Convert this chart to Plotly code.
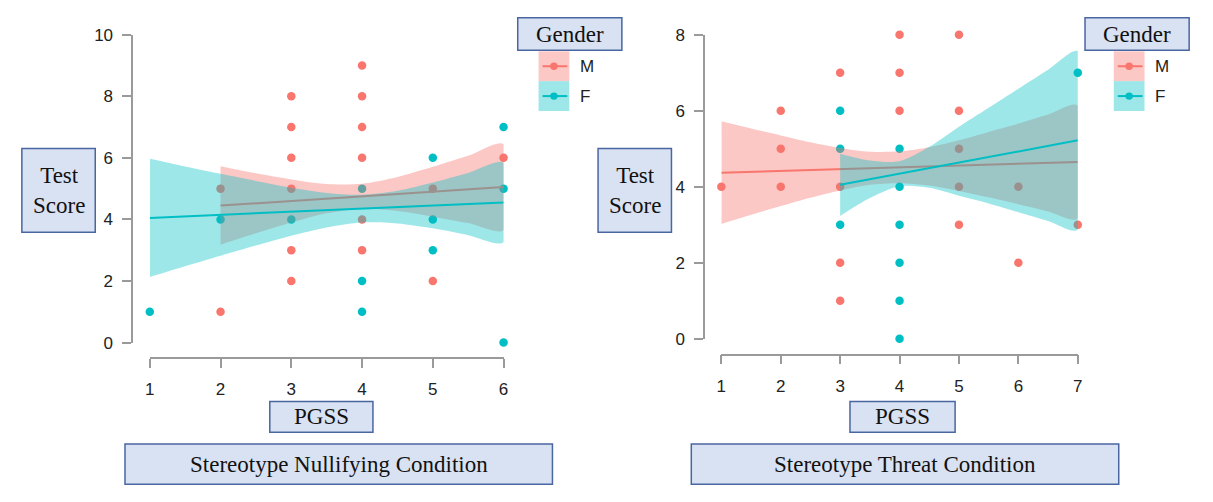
import plotly.graph_objects as go

W, H = 1213, 502

# ---------------- data: Stereotype Nullifying Condition (left) ----------------
nul_m_x = [2, 2, 3, 3, 3, 3, 3, 3, 4, 4, 4, 4, 4, 4, 5, 5, 6]
nul_m_y = [5, 1, 8, 7, 6, 5, 3, 2, 9, 8, 7, 6, 4, 3, 5, 2, 6]
nul_f_x = [1, 2, 3, 4, 4, 4, 5, 5, 5, 6, 6, 6]
nul_f_y = [1, 4, 4, 5, 2, 1, 6, 4, 3, 7, 5, 0]

nul_m_fit_x = [2, 6]
nul_m_fit_y = [4.45, 5.05]
nul_f_fit_x = [1, 6]
nul_f_fit_y = [4.05, 4.55]

nul_m_band_x = [2, 2.5, 3, 3.5, 4, 4.5, 5, 5.5, 6]
nul_m_band_lo = [3.18, 3.55, 3.90, 4.20, 4.35, 4.27, 4.09, 3.88, 3.65]
nul_m_band_hi = [5.73, 5.50, 5.30, 5.15, 5.16, 5.38, 5.71, 6.07, 6.45]
nul_f_band_x = [1, 1.5, 2, 2.5, 3, 3.5, 4, 4.5, 5, 5.5, 6]
nul_f_band_lo = [2.13, 2.48, 2.82, 3.15, 3.47, 3.74, 3.90, 3.87, 3.71, 3.49, 3.26]
nul_f_band_hi = [5.97, 5.72, 5.48, 5.25, 5.03, 4.86, 4.80, 4.93, 5.20, 5.51, 5.84]

# ---------------- data: Stereotype Threat Condition (right) ----------------
thr_m_x = [1, 2, 2, 2, 3, 3, 3, 3, 4, 4, 4, 5, 5, 5, 5, 5, 6, 6, 7]
thr_m_y = [4, 6, 5, 4, 7, 4, 2, 1, 8, 7, 6, 8, 6, 5, 4, 3, 4, 2, 3]
thr_f_x = [3, 3, 3, 4, 4, 4, 4, 4, 4, 7]
thr_f_y = [6, 5, 3, 5, 4, 3, 2, 1, 0, 7]

thr_m_fit_x = [1, 7]
thr_m_fit_y = [4.37, 4.65]
thr_f_fit_x = [3, 7]
thr_f_fit_y = [4.05, 5.22]

thr_m_band_x = [1, 1.5, 2, 2.5, 3, 3.5, 4, 4.5, 5, 5.5, 6, 6.5, 7]
thr_m_band_lo = [3.02, 3.26, 3.49, 3.71, 3.90, 4.05, 4.09, 4.03, 3.89, 3.72, 3.54, 3.35, 3.16]
thr_m_band_hi = [5.72, 5.53, 5.35, 5.17, 5.02, 4.92, 4.93, 5.04, 5.22, 5.44, 5.66, 5.90, 6.14]
thr_f_band_x = [3, 3.5, 4, 4.5, 5, 5.5, 6, 6.5, 7]
thr_f_band_lo = [3.23, 3.70, 4.01, 3.97, 3.76, 3.56, 3.33, 3.10, 2.87]
thr_f_band_hi = [4.87, 4.69, 4.67, 5.05, 5.58, 6.08, 6.58, 7.08, 7.57]

x_ticks_left = [1, 2, 3, 4, 5, 6]
x_ticks_right = [1, 2, 3, 4, 5, 6, 7]
y_ticks_left = [0, 2, 4, 6, 8, 10]
y_ticks_right = [0, 2, 4, 6, 8]

RED = "#F8766D"
TEAL = "#00BFC4"
RED_FILL = "rgba(248,118,109,0.40)"
TEAL_FILL = "rgba(0,191,196,0.38)"
AXIS_GRAY = "#9a9a9a"
BOX_FILL = "#D9E2F2"
BOX_LINE = "#4A66A0"
SANS = "Liberation Sans, Arial, sans-serif"
SERIF = "Liberation Serif, Times New Roman, serif"


def px(x):
    return x / W


def py(y):
    return 1 - y / H


fig = go.Figure()


def add_panel(xa, ya, mx, my, fx, fy, mfx, mfy, ffx, ffy,
              mbx, mblo, mbhi, fbx, fblo, fbhi):
    common = dict(xaxis=xa, yaxis=ya, showlegend=False, hoverinfo="skip",
                  cliponaxis=False)
    fig.add_trace(go.Scatter(x=mx, y=my, mode="markers",
                             marker=dict(color=RED, size=8.5), **common))
    fig.add_trace(go.Scatter(x=fx, y=fy, mode="markers",
                             marker=dict(color=TEAL, size=8.5), **common))
    fig.add_trace(go.Scatter(x=mbx + mbx[::-1], y=mbhi + mblo[::-1],
                             mode="lines", fill="toself", fillcolor=RED_FILL,
                             line=dict(width=0, shape="spline", smoothing=0.8),
                             **common))
    fig.add_trace(go.Scatter(x=mfx, y=mfy, mode="lines",
                             line=dict(color=RED, width=2), **common))
    fig.add_trace(go.Scatter(x=fbx + fbx[::-1], y=fbhi + fblo[::-1],
                             mode="lines", fill="toself", fillcolor=TEAL_FILL,
                             line=dict(width=0, shape="spline", smoothing=0.8),
                             **common))
    fig.add_trace(go.Scatter(x=ffx, y=ffy, mode="lines",
                             line=dict(color=TEAL, width=2), **common))


add_panel("x", "y", nul_m_x, nul_m_y, nul_f_x, nul_f_y,
          nul_m_fit_x, nul_m_fit_y, nul_f_fit_x, nul_f_fit_y,
          nul_m_band_x, nul_m_band_lo, nul_m_band_hi,
          nul_f_band_x, nul_f_band_lo, nul_f_band_hi)
add_panel("x2", "y2", thr_m_x, thr_m_y, thr_f_x, thr_f_y,
          thr_m_fit_x, thr_m_fit_y, thr_f_fit_x, thr_f_fit_y,
          thr_m_band_x, thr_m_band_lo, thr_m_band_hi,
          thr_f_band_x, thr_f_band_lo, thr_f_band_hi)

axis_common = dict(showgrid=False, zeroline=False, showline=True,
                   linecolor=AXIS_GRAY, linewidth=1.5, ticks="outside",
                   ticklen=9, tickwidth=1.5, tickcolor=AXIS_GRAY,
                   tickfont=dict(family=SANS, size=17, color="#222"),
                   anchor="free", fixedrange=True)

fig.update_layout(
    width=W, height=H, margin=dict(l=0, r=0, t=0, b=0),
    paper_bgcolor="white", plot_bgcolor="white",
    xaxis=dict(domain=[px(146), px(502.7)], range=[1, 6],
               tickvals=x_ticks_left, position=py(362.7),
               ticklabelstandoff=7, **axis_common),
    yaxis=dict(domain=[py(346.7), py(26.7)], range=[0, 10],
               tickvals=y_ticks_left, position=px(128.3),
               ticklabelstandoff=6, **axis_common),
    xaxis2=dict(domain=[px(722.3), px(1081.7)], range=[1, 7],
                tickvals=x_ticks_right, position=py(359.3),
                ticklabelstandoff=7, **axis_common),
    yaxis2=dict(domain=[py(342.7), py(26.7)], range=[0, 8],
                tickvals=y_ticks_right, position=px(705),
                ticklabelstandoff=6, **axis_common),
)

shapes = []
annotations = []


def box(x0, y0, x1, y1, text):
    shapes.append(dict(type="rect", xref="paper", yref="paper",
                       x0=px(x0), x1=px(x1), y0=py(y1), y1=py(y0),
                       fillcolor=BOX_FILL, line=dict(color=BOX_LINE, width=1.5),
                       layer="above"))
    annotations.append(dict(xref="paper", yref="paper",
                            x=px((x0 + x1) / 2), y=py((y0 + y1) / 2),
                            xanchor="center", yanchor="middle", showarrow=False,
                            text=text,
                            font=dict(family=SERIF, size=23, color="#111")))


box(17, 145, 91, 232, "Test<br>Score")
box(598, 145, 672, 232, "Test<br>Score")
box(267, 408, 371, 440, "PGSS")
box(852, 408, 958, 440, "PGSS")
box(121, 452, 552, 494, "Stereotype Nullifying Condition")
box(692, 452, 1123, 494, "Stereotype Threat Condition")
box(517, 9, 622, 43, "Gender")
box(1089, 9, 1194, 43, "Gender")


def legend(x0, labels_colors):
    x1 = x0 + 31
    for i, (lab, col, fill) in enumerate(labels_colors):
        y0 = 44 + 31 * i
        y1 = y0 + 31
        yc = (y0 + y1) / 2
        shapes.append(dict(type="rect", xref="paper", yref="paper",
                           x0=px(x0), x1=px(x1), y0=py(y1), y1=py(y0),
                           fillcolor=fill, line=dict(width=0), layer="above"))
        shapes.append(dict(type="line", xref="paper", yref="paper",
                           x0=px(x0 + 4), x1=px(x1 - 2), y0=py(yc), y1=py(yc),
                           line=dict(color=col, width=2), layer="above"))
        shapes.append(dict(type="circle", xref="paper", yref="paper",
                           x0=px(x0 + 15.5 - 3.8), x1=px(x0 + 15.5 + 3.8),
                           y0=py(yc + 3.8), y1=py(yc - 3.8),
                           fillcolor=col, line=dict(width=0), layer="above"))
        annotations.append(dict(xref="paper", yref="paper",
                                x=px(x1 + 9), y=py(yc), xanchor="left",
                                yanchor="middle", showarrow=False, text=lab,
                                font=dict(family=SANS, size=17, color="#222")))


leg_items = [("M", RED, RED_FILL), ("F", TEAL, TEAL_FILL)]
legend(538, leg_items)
legend(1118, leg_items)

fig.update_layout(shapes=shapes, annotations=annotations)
fig.write_html("out.html")
